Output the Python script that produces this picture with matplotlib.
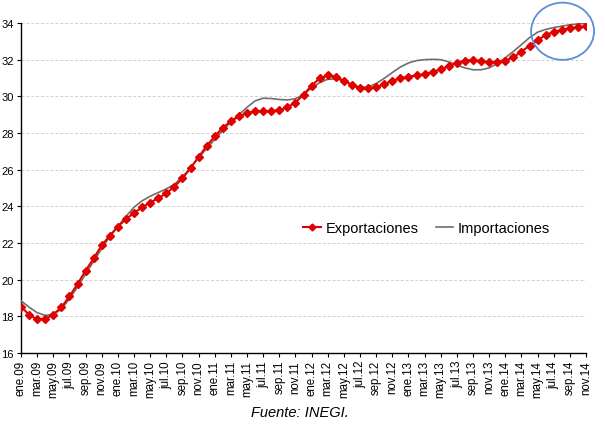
import matplotlib
matplotlib.use("Agg")
import matplotlib.pyplot as plt
from matplotlib.patches import Ellipse

plt.rcParams['font.family'] = ['Liberation Sans', 'DejaVu Sans']

exportaciones = [
    18.53, 18.09, 17.83, 17.85, 18.10, 18.49, 19.09, 19.76, 20.49, 21.16,
    21.87, 22.40, 22.89, 23.31, 23.63, 23.95, 24.20, 24.45, 24.71, 25.08,
    25.52, 26.09, 26.69, 27.29, 27.82, 28.29, 28.64, 28.91, 29.09, 29.18,
    29.20, 29.20, 29.23, 29.40, 29.66, 30.09, 30.58, 30.98, 31.14, 31.06,
    30.85, 30.61, 30.44, 30.43, 30.50, 30.66, 30.85, 30.98, 31.08, 31.14,
    31.21, 31.33, 31.47, 31.65, 31.84, 31.95, 31.98, 31.93, 31.85, 31.85,
    31.95, 32.13, 32.44, 32.76, 33.05, 33.35, 33.51, 33.62, 33.71, 33.78,
    33.82,
]

importaciones = [
    18.85, 18.50, 18.20, 18.05, 18.10, 18.40, 18.95, 19.60, 20.30, 21.00,
    21.70, 22.35, 22.90, 23.45, 23.95, 24.30, 24.55, 24.75, 24.95, 25.20,
    25.60, 26.10, 26.65, 27.15, 27.65, 28.15, 28.60, 29.00, 29.40, 29.75,
    29.90, 29.88, 29.83, 29.80, 29.87, 30.10, 30.45, 30.75, 30.93, 30.95,
    30.85, 30.65, 30.50, 30.50, 30.70, 30.98, 31.30, 31.60, 31.82, 31.95,
    32.00, 32.02, 32.00, 31.88, 31.70, 31.55, 31.45, 31.45, 31.55, 31.78,
    32.10, 32.45, 32.82, 33.20, 33.50, 33.65, 33.75, 33.83, 33.90, 33.95,
    33.97,
]

tick_labels = [
    'ene.09', 'mar.09', 'may.09', 'jul.09', 'sep.09', 'nov.09',
    'ene.10', 'mar.10', 'may.10', 'jul.10', 'sep.10', 'nov.10',
    'ene.11', 'mar.11', 'may.11', 'jul.11', 'sep.11', 'nov.11',
    'ene.12', 'mar.12', 'may.12', 'jul.12', 'sep.12', 'nov.12',
    'ene.13', 'mar.13', 'may.13', 'jul.13', 'sep.13', 'nov.13',
    'ene.14', 'mar.14', 'may.14', 'jul.14', 'sep.14', 'nov.14',
]

y_ticks = [16, 18, 20, 22, 24, 26, 28, 30, 32, 34]

fig = plt.figure(figsize=(6.05, 4.27), dpi=100)
ax = fig.add_axes([21/605, 1-354/427, (586-21)/605, (354-24)/427])

x = list(range(len(exportaciones)))

line_imp, = ax.plot(x, importaciones, color='#6E6E6E', lw=1.2,
                    label='Importaciones', zorder=3)
line_exp, = ax.plot(x, exportaciones, color='#E00000', lw=1.5, marker='D',
                    markersize=4.2, markeredgecolor='#E00000',
                    label='Exportaciones', zorder=4)

ax.set_xlim(0, len(exportaciones) - 1)
ax.set_ylim(16, 34)
ax.set_yticks(y_ticks)
ax.set_yticklabels([str(v) for v in y_ticks], fontsize=8)
ax.set_xticks(list(range(0, len(exportaciones), 2)))
ax.set_xticklabels(tick_labels, rotation=90, fontsize=8.3)
ax.tick_params(axis='both', direction='out', length=3, width=0.8, pad=2, colors='black')

for v in y_ticks[1:]:
    ax.axhline(v, color='#D0D0D0', lw=0.7, ls=(0, (3, 2)), zorder=1)

for s in ['top', 'right']:
    ax.spines[s].set_visible(False)
for s in ['left', 'bottom']:
    ax.spines[s].set_linewidth(1.0)
    ax.spines[s].set_color('black')

leg = ax.legend(handles=[line_exp, line_imp], loc='center',
                bbox_to_anchor=(0.718, 0.379), ncol=2, frameon=False,
                fontsize=10.5, handlelength=1.2, handletextpad=0.3,
                columnspacing=1.2, borderpad=0)
for h in leg.legend_handles:
    if h.get_label() == 'Exportaciones':
        h.set_markersize(3.5)

ell = Ellipse((67.1, 33.55), 7.8, 3.12, fill=False, edgecolor='#5B8ED6',
              lw=1.3, clip_on=False, zorder=5)
ax.add_patch(ell)

fig.text(300/605, 1-413/427, 'Fuente: INEGI.', ha='center', va='center',
         fontsize=10.5, style='italic')

fig.savefig('out.png', dpi=100)
